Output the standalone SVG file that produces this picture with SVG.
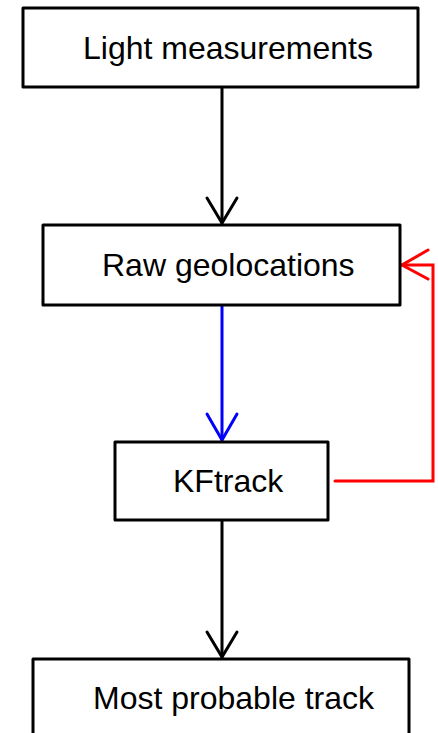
<svg xmlns="http://www.w3.org/2000/svg" width="438" height="733" viewBox="0 0 438 733">
  <style>
    .box { fill: #ffffff; stroke: #000000; stroke-width: 3; stroke-linejoin: round; }
    .label { font-family: "Liberation Sans", Arial, sans-serif; font-size: 32px; fill: #000000; }
    .link { fill: none; stroke-width: 3; stroke-linecap: round; stroke-linejoin: miter; }
    .black { stroke: #000000; }
    .blue { stroke: #0000ff; }
    .red { stroke: #ff0000; }
  </style>
  <rect width="438" height="733" fill="#ffffff"/>

  <g id="connectors">
    <!-- Light measurements -> Raw geolocations -->
    <path class="link black" d="M222,87 V223"/>
    <path class="link black" d="M207,198 L222,223 L237,198"/>
    <!-- Raw geolocations -> KFtrack -->
    <path class="link blue" d="M222,305 V440"/>
    <path class="link blue" d="M207,414 L222,440 L237,414"/>
    <!-- KFtrack -> Most probable track -->
    <path class="link black" d="M222,520 V657"/>
    <path class="link black" d="M207,632 L222,657 L237,632"/>
    <!-- KFtrack feedback -> Raw geolocations -->
    <path class="link red" d="M335,481 H433 V265 H402"/>
    <path class="link red" d="M428,250 L402,265 L428,279"/>
  </g>

  <g id="node-light">
    <rect class="box" x="23" y="8" width="395" height="79"/>
    <text class="label" x="83" y="59">Light measurements</text>
  </g>

  <g id="node-raw">
    <rect class="box" x="43" y="225" width="357" height="80"/>
    <text class="label" x="102" y="276">Raw geolocations</text>
  </g>

  <g id="node-kftrack">
    <rect class="box" x="115" y="442" width="213" height="78"/>
    <text class="label" x="173" y="492">KFtrack</text>
  </g>

  <g id="node-track">
    <rect class="box" x="33" y="659" width="376" height="90"/>
    <text class="label" x="93" y="709">Most probable track</text>
  </g>
</svg>
